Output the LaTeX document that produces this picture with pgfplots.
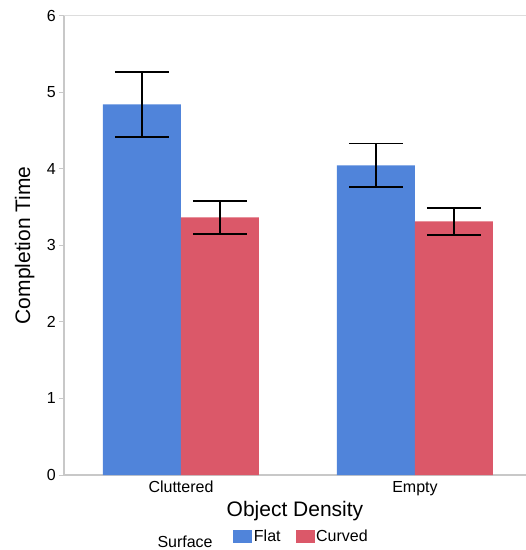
\documentclass[border=0pt]{standalone}
\usepackage{pgfplots}
\usepackage{pgfplotstable}
\pgfplotsset{compat=1.18}
\usepackage{fontspec}
\setmainfont{Liberation Sans}
\definecolor{flat}{RGB}{80,132,218}
\definecolor{curved}{RGB}{219,88,105}
\definecolor{axgray}{RGB}{200,200,200}
\definecolor{gridgray}{RGB}{221,221,221}
\pgfplotstableread{
x y ep em
0 4.843 0.418 0.424
1 4.046 0.287 0.284
}\flatdata
\pgfplotstableread{
x y ep em
0 3.366 0.213 0.214
1 3.314 0.174 0.179
}\curveddata
\begin{document}
\begin{tikzpicture}
\begin{axis}[
  name=ax,
  scale only axis, width=462bp, height=459.3bp,
  at={(0,0)}, anchor=south west,
  xmin=-0.5, xmax=1.4744, ymin=0, ymax=6,
  axis x line*=bottom, axis y line*=left,
  axis line style={draw=axgray, line width=1.2bp},
  ybar=0pt, bar width=78bp,
  xtick={0,1}, xticklabels={Cluttered,Empty},
  x tick style={draw=none},
  ytick={0,1,2,3,4,5,6},
  y tick style={draw=axgray, line width=1bp},
  tick align=outside, major tick length=5bp,
  ticklabel style={font=\fontsize{16bp}{19bp}\selectfont},
  /pgf/number format/assume math mode=true,
  xticklabel style={anchor=north, inner sep=0pt, yshift=-1bp},
  yticklabel style={anchor=east, inner sep=0pt, xshift=-3bp},
  xlabel={Object Density},
  xlabel style={at={(axis description cs:0.5,0)}, anchor=base, yshift=-41.7bp, inner sep=0pt, font=\fontsize{21bp}{25bp}\selectfont},
  ylabel={Completion Time},
  every axis y label/.style={at={(axis description cs:-0.0736,0.5)}, rotate=90, anchor=base, inner sep=0pt, font=\fontsize{21bp}{25bp}\selectfont},
  legend columns=-1,
  legend cell align=left,
  legend image code/.code={\path[#1,draw=none] (0bp,-6.5bp) rectangle (19bp,6.5bp);},
  legend style={draw=none, fill=none, inner sep=0pt, outer sep=0pt,
    at={(0.3665,-0.1343)}, anchor=west,
    font=\fontsize{16bp}{19bp}\selectfont,
    nodes={inner sep=0pt},
    /tikz/every odd column/.append style={column sep=1.6bp},
    /tikz/every even column/.append style={column sep=15bp}},
]
\addplot[fill=flat, draw=none,
  error bars/.cd, y dir=both, y explicit,
  error bar style={draw=black, line width=1.6bp},
  error mark options={rotate=90, draw=black, line width=1.6bp, mark size=27bp}]
  table[x=x, y=y, y error plus=ep, y error minus=em] {\flatdata};
\addlegendentry{Flat}
\addplot[fill=curved, draw=none,
  error bars/.cd, y dir=both, y explicit,
  error bar style={draw=black, line width=1.6bp},
  error mark options={rotate=90, draw=black, line width=1.6bp, mark size=27bp}]
  table[x=x, y=y, y error plus=ep, y error minus=em] {\curveddata};
\addlegendentry{Curved}
\end{axis}
\draw[gridgray, line width=1.2bp] (ax.north west) -- (ax.north east);
\node[anchor=base west, inner sep=0pt, xshift=93.3bp, yshift=-72bp, font=\fontsize{16bp}{19bp}\selectfont] at (ax.south west) {Surface};
\pgfresetboundingbox
\useasboundingbox (-64bp,-75bp) rectangle (462bp,475bp);
\end{tikzpicture}
\end{document}
